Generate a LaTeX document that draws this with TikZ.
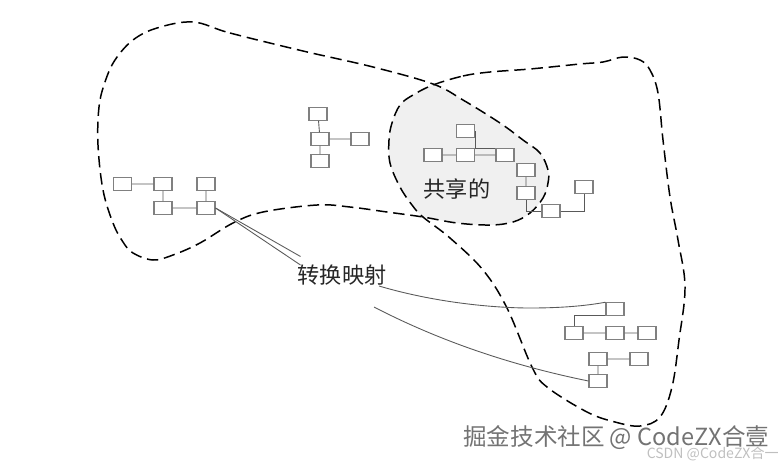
\documentclass[tikz,border=0pt]{standalone}
\usepackage{fontspec}
\setmainfont{Liberation Sans}
\newfontfamily\cjk{Noto Sans CJK SC}
\tikzset{
  leaf/.style={draw=black!50, line width=0.6pt, fill=white, minimum width=0.36cm, minimum height=0.25cm, inner sep=0pt},
  link/.style={draw=black!65, line width=0.5pt},
  map/.style={draw=black!65, line width=0.5pt},
  blob/.style={black, line width=0.85pt, dash pattern=on 6.5pt off 3.3pt},
  tag/.style={inner sep=0pt, font=\cjk\fontsize{12.6}{13}\selectfont, text=black!85},
  mark1/.style={inner sep=0pt, font=\cjk\fontsize{13.4}{14}\selectfont, text=black!55},
  mark2/.style={inner sep=0pt, font=\cjk\fontsize{8}{9}\selectfont, text=black!25}
}
\newcommand{\leftblob}{plot[smooth cycle, tension=0.6] coordinates {(19.3,-2.2) (23,-3.3) (30.3,-5.1) (37.3,-6.7) (43.3,-8.4) (46.3,-10) (50,-12.3) (52.3,-14) (54,-15.3) (54.8,-17) (54.8,-18.3) (54.3,-19.8) (53,-21.3) (51.3,-22.2) (49,-22.5) (45.7,-22.3) (42.3,-21.7) (38.7,-21.2) (35,-20.7) (31.7,-20.5) (26.3,-21.2) (23.3,-22.3) (20,-24.3) (17.3,-25.5) (15.3,-26) (13.3,-25.3) (12.3,-24.2) (11.3,-22.3) (10.3,-19) (9.8,-14.5) (9.9,-10.7) (10.5,-8.2) (11.5,-6) (13.3,-4) (15.7,-2.8)}}
\newcommand{\rightblob}{plot[smooth cycle, tension=0.6] coordinates {(43.3,-8.5) (46.3,-7.6) (49,-7.2) (53,-6.9) (58,-6.4) (60.3,-6.2) (62.3,-5.7) (64,-6) (65,-7) (65.8,-9.3) (66.3,-14) (67,-19.7) (67.8,-24) (68.5,-28.7) (67.9,-34) (67.2,-38.7) (66,-41.7) (64,-42.6) (61.5,-42.2) (58.7,-41.2) (54.7,-38.7) (53.2,-36.7) (50.7,-30.8) (48.3,-27) (45,-23.8) (42.3,-21.7) (41.2,-20.5) (40,-18.7) (39,-16.3) (38.9,-14) (39.2,-12.3) (40,-10.5) (41.3,-9.5)}}
\begin{document}
\begin{tikzpicture}[scale=0.2]
\useasboundingbox (0,0) rectangle (78.2,-46.5);
% overlap of the two regions
\begin{scope}
\clip \leftblob;
\fill [black!6] \rightblob;
\end{scope}
\draw [blob] \leftblob;
\draw [blob] \rightblob;
% upper left group
\node [leaf] (top) at (31.8,-11.4) {};
\node [leaf] (mid) at (32,-13.9) {};
\node [leaf] (side) at (36,-13.9) {};
\node [leaf] (low) at (32,-16.1) {};
\draw [link] (top) -- (mid);
\draw [link] (mid) -- (side);
\draw [link] (mid) -- (low);
% left group
\node [leaf] (la) at (12.25,-18.4) {};
\node [leaf] (lb) at (16.3,-18.4) {};
\node [leaf] (lc) at (16.3,-20.8) {};
\node [leaf] (ld) at (20.6,-20.8) {};
\node [leaf] (le) at (20.6,-18.4) {};
\draw [link] (la) -- (lb);
\draw [link] (lb) -- (lc);
\draw [link] (lc) -- (ld);
\draw [link] (ld) -- (le);
% shared group
\node [leaf] (sa) at (46.55,-13.1) {};
\node [leaf] (sb) at (43.3,-15.5) {};
\node [leaf] (sc) at (46.55,-15.5) {};
\node [leaf] (sd) at (50.5,-15.5) {};
\node [leaf] (se) at (52.6,-17) {};
\node [leaf] (sf) at (52.6,-19.3) {};
\node [leaf] (sg) at (55.1,-21.1) {};
\node [leaf] (sh) at (58.4,-18.7) {};
\draw [link] (sb) -- (sc);
\draw [link] (sc) -- (sd);
\draw [link] (sa.east) -- (sc.north east) -- (sd.north west);
\draw [link] (se) -- (sf);
\draw [link] (sf) |- (sg);
\draw [link] (sg) -| (sh);
% lower right groups
\node [leaf] (ra) at (61.5,-30.9) {};
\node [leaf] (rb) at (57.4,-33.3) {};
\node [leaf] (rc) at (61.5,-33.3) {};
\node [leaf] (rd) at (64.7,-33.3) {};
\node [leaf] (re) at (59.8,-35.9) {};
\node [leaf] (rf) at (63.9,-35.9) {};
\node [leaf] (rg) at (59.8,-38.1) {};
\draw [link] (ra.south west) -| (rb);
\draw [link] (rb) -- (rc);
\draw [link] (rc) -- (rd);
\draw [link] (re) -- (rf);
\draw [link] (re) -- (rg);
% labels
\node [tag] (shared) at (45.7,-18.95) {共享的};
\node [tag] (mapping) at (34.2,-27.5) {转换映射};
% mapping lines
\coordinate (ma) at (30.05,-25.65);
\coordinate (mb) at (30.05,-26.5);
\coordinate (mc) at (37.9,-28.6);
\coordinate (md) at (37.4,-30.7);
\draw [map] (ld.east) -- (ma);
\draw [map] (ld.east) -- (mb);
\draw [map] (mc) .. controls (44,-30.4) and (50,-30.8) .. (53,-30.8) .. controls (56,-30.8) and (58.5,-30.6) .. (ra.north west);
\draw [map] (md) .. controls (43,-33.6) and (50,-36.3) .. (rg.west);
% watermark
\node [mark1, anchor=west] (wm) at (46.3,-43.8) {掘金技术社区 @ CodeZX合壹};
\node [mark2, anchor=east] (wn) at (77.9,-45.4) {CSDN @CodeZX合一};
\end{tikzpicture}
\end{document}
